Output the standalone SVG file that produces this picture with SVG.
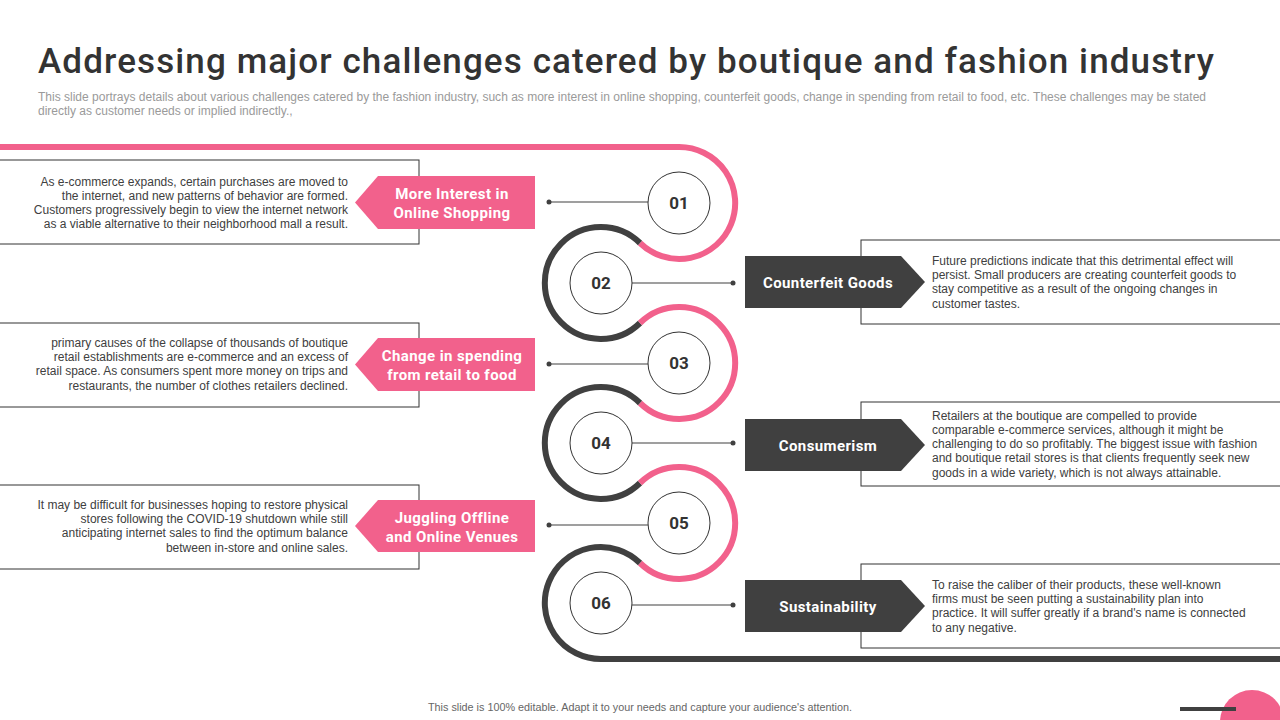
<svg xmlns="http://www.w3.org/2000/svg" width="1280" height="720" viewBox="0 0 1280 720">
<style>
.title{font-family:Roboto,"Liberation Sans",sans-serif;font-size:35px;font-weight:500;fill:#333}
.sub{font-family:"Liberation Sans",Arial,sans-serif;font-size:12px;fill:#9a9a9a}
.body{font-family:"Liberation Sans",Arial,sans-serif;font-size:12px;fill:#404040}
.lbl{font-family:Roboto,"Liberation Sans",sans-serif;font-size:15px;font-weight:700;fill:#fff;text-anchor:middle;letter-spacing:0.4px}
.num{font-family:Roboto,"Liberation Sans",sans-serif;font-size:17px;font-weight:700;fill:#333;text-anchor:middle}
.foot{font-family:"Liberation Sans",Arial,sans-serif;font-size:10.8px;fill:#666;text-anchor:middle}
.box{fill:#fff;stroke:#333;stroke-width:1}
.pink{fill:#f2618c}
.dark{fill:#404040}
.ring{fill:#fff;stroke:#333;stroke-width:1}
.pk{fill:none;stroke:#f2618c;stroke-width:6}
.dk{fill:none;stroke:#404040;stroke-width:6}
.con{stroke:#404040;stroke-width:1.2}
.dot{fill:#404040}
</style>

<text class="title" x="38" y="73" textLength="1176" lengthAdjust="spacing">Addressing major challenges catered by boutique and fashion industry</text>
<text class="sub" x="38" y="101" textLength="1168" lengthAdjust="spacingAndGlyphs">This slide portrays details about various challenges catered by the fashion industry, such as more interest in online shopping, counterfeit goods, change in spending from retail to food, etc.  These challenges may be stated</text>
<text class="sub" x="38" y="115">directly as customer needs or implied indirectly.,</text>

<g id="track">
<path class="pk" d="M0,147 H679 A56,56 0 1 1 640,243"/>
<path class="dk" d="M640,243 A56,56 0 1 0 640,323"/>
<path class="pk" d="M640,323 A56,56 0 1 1 640,403"/>
<path class="dk" d="M640,403 A56,56 0 1 0 640,483"/>
<path class="pk" d="M640,483 A56,56 0 1 1 640,563"/>
<path class="dk" d="M640,563 A56,56 0 1 0 601,659 H1280"/>
</g>

<g id="connectors">
<line class="con" x1="549" y1="202" x2="648" y2="202"/><circle class="dot" cx="549" cy="202" r="2.5"/>
<line class="con" x1="632" y1="283" x2="733" y2="283"/><circle class="dot" cx="733" cy="283" r="2.5"/>
<line class="con" x1="549" y1="364" x2="648" y2="364"/><circle class="dot" cx="549" cy="364" r="2.5"/>
<line class="con" x1="632" y1="443" x2="733" y2="443"/><circle class="dot" cx="733" cy="443" r="2.5"/>
<line class="con" x1="549" y1="525" x2="648" y2="525"/><circle class="dot" cx="549" cy="525" r="2.5"/>
<line class="con" x1="632" y1="605" x2="733" y2="605"/><circle class="dot" cx="733" cy="605" r="2.5"/>
</g>

<g id="n01"><circle class="ring" cx="679" cy="203" r="31"/><text class="num" x="679" y="209">01</text></g>
<g id="n02"><circle class="ring" cx="601" cy="283" r="31"/><text class="num" x="601" y="289">02</text></g>
<g id="n03"><circle class="ring" cx="679" cy="363" r="31"/><text class="num" x="679" y="369">03</text></g>
<g id="n04"><circle class="ring" cx="601" cy="443" r="31"/><text class="num" x="601" y="449">04</text></g>
<g id="n05"><circle class="ring" cx="679" cy="523" r="31"/><text class="num" x="679" y="529">05</text></g>
<g id="n06"><circle class="ring" cx="601" cy="603" r="31"/><text class="num" x="601" y="609">06</text></g>

<g id="c1">
<rect class="box" x="-1" y="160" width="420" height="84"/>
<path class="pink" d="M378,176 H535 V229 H378 L355,202.5 Z"/>
<text class="lbl" x="452" y="199">More Interest in</text>
<text class="lbl" x="452" y="218">Online Shopping</text>
<g class="body" text-anchor="end">
<text x="348" y="186">As e-commerce expands, certain purchases are moved to</text>
<text x="348" y="200">the internet, and new patterns of behavior are formed.</text>
<text x="348" y="214">Customers progressively begin to view the internet network</text>
<text x="348" y="228">as a viable alternative to their neighborhood mall a result.</text>
</g>
</g>

<g id="c2">
<rect class="box" x="861" y="240" width="420" height="84"/>
<path class="dark" d="M745,256 H901 L925,282 L901,308 H745 Z"/>
<text class="lbl" x="828" y="288">Counterfeit Goods</text>
<g class="body">
<text x="932" y="265">Future predictions indicate that this detrimental effect will</text>
<text x="932" y="279">persist. Small producers are creating counterfeit goods to</text>
<text x="932" y="293">stay competitive as a result of the ongoing changes in</text>
<text x="932" y="308">customer tastes.</text>
</g>
</g>

<g id="c3">
<rect class="box" x="-1" y="323" width="420" height="84"/>
<path class="pink" d="M378,338 H535 V391 H378 L355,364.5 Z"/>
<text class="lbl" x="452" y="361">Change in spending</text>
<text class="lbl" x="452" y="380">from retail to food</text>
<g class="body" text-anchor="end">
<text x="348" y="347">primary causes of the collapse of thousands of boutique</text>
<text x="348" y="361">retail establishments are e-commerce and an excess of</text>
<text x="348" y="375">retail space. As consumers spent more money on trips and</text>
<text x="348" y="390">restaurants, the number of clothes retailers declined.</text>
</g>
</g>

<g id="c4">
<rect class="box" x="861" y="402" width="420" height="84"/>
<path class="dark" d="M745,419 H901 L925,445 L901,471 H745 Z"/>
<text class="lbl" x="828" y="451">Consumerism</text>
<g class="body">
<text x="932" y="420">Retailers at the boutique are compelled to provide</text>
<text x="932" y="434">comparable e-commerce services, although it might be</text>
<text x="932" y="448">challenging to do so profitably. The biggest issue with fashion</text>
<text x="932" y="462">and boutique retail stores is that clients frequently seek new</text>
<text x="932" y="477">goods in a wide variety,  which is not always attainable.</text>
</g>
</g>

<g id="c5">
<rect class="box" x="-1" y="485" width="420" height="84"/>
<path class="pink" d="M378,500 H535 V552 H378 L355,526 Z"/>
<text class="lbl" x="452" y="523">Juggling Offline</text>
<text class="lbl" x="452" y="542">and Online Venues</text>
<g class="body" text-anchor="end">
<text x="348" y="509">It may be difficult for  businesses hoping to restore physical</text>
<text x="348" y="523">stores following the COVID-19 shutdown while still</text>
<text x="348" y="537">anticipating internet sales to find the  optimum balance</text>
<text x="348" y="552">between in-store and online sales.</text>
</g>
</g>

<g id="c6">
<rect class="box" x="861" y="564" width="420" height="84"/>
<path class="dark" d="M745,580 H901 L925,606 L901,632 H745 Z"/>
<text class="lbl" x="828" y="612">Sustainability</text>
<g class="body">
<text x="932" y="589">To raise the caliber of their products, these well-known</text>
<text x="932" y="603">firms must be seen putting a sustainability plan into</text>
<text x="932" y="617">practice. It will suffer greatly if a brand's name is connected</text>
<text x="932" y="632">to any negative.</text>
</g>
</g>

<text class="foot" x="640" y="711">This slide is 100% editable.  Adapt it to your needs and capture your audience's attention.</text>
<circle class="pink" cx="1252" cy="722" r="32"/>
<rect class="dark" x="1180" y="707" width="56" height="4"/>
</svg>
